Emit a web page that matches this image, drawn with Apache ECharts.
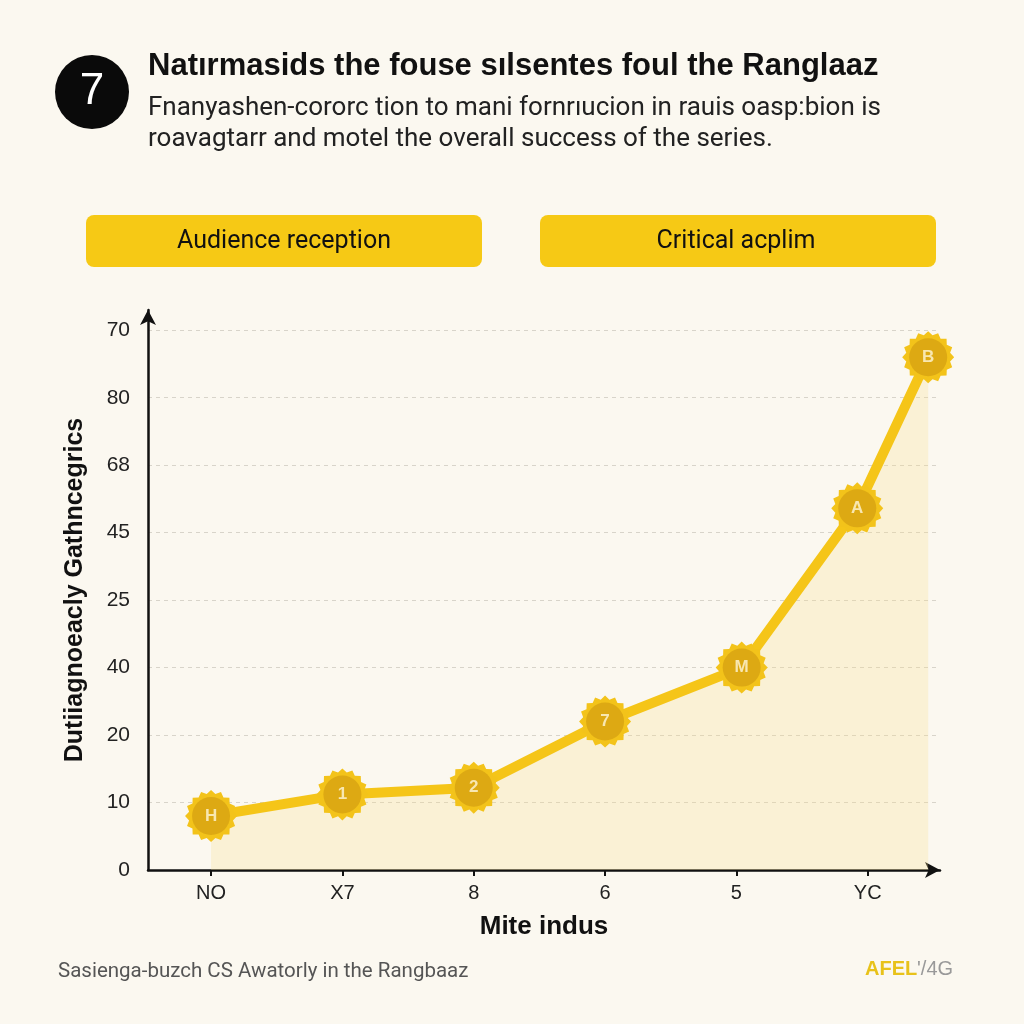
<!DOCTYPE html>
<html><head><meta charset="utf-8">
<script src="https://cdn.jsdelivr.net/npm/echarts@6/dist/echarts.min.js"></script>
<style>html,body{margin:0;padding:0;background:#FBF8F0}#c{width:1024px;height:1024px}</style>
</head><body><div id="c"></div>
<script>
const categories = ['NO', 'X7', '8', '6', '5', 'YC'];
const yTickLabels = ['0', '10', '20', '40', '25', '45', '68', '80', '70'];
const pointX = [0, 1, 2, 3, 4.04, 4.92, 5.46];
const pointY = [0.80, 1.12, 1.22, 2.2, 3.0, 5.36, 7.60];
const pointLabels = ['H', '1', '2', '7', 'M', 'A', 'B'];
const legendNames = ['Audience reception', 'Critical acplim'];

const data = pointX.map((x, i) => [x, pointY[i]]);

// gear / sun badge outline
let gp = [];
const teeth = 16;
for (let i = 0; i < teeth * 2; i++) {
  const a = Math.PI * i / teeth;
  const r = (i % 2 === 0) ? 50 : 43;
  gp.push((50 + r * Math.cos(a)).toFixed(2) + ' ' + (50 + r * Math.sin(a)).toFixed(2));
}
const gearPath = 'path://M' + gp.join(' L') + ' Z';

const chart = echarts.init(document.getElementById('c'));
const FONT = 'Liberation Sans';
chart.setOption({
  backgroundColor: '#FBF8F0',
  textStyle: { fontFamily: FONT },
  grid: { left: 148, right: 84, top: 310, bottom: 154 },
  xAxis: {
    type: 'value', min: -0.48, max: 5.55,
    name: 'Mite indus', nameLocation: 'middle', nameGap: 44,
    nameTextStyle: { fontSize: 26, fontWeight: 'bold', color: '#111', fontFamily: FONT },
    axisLine: { onZero: false, lineStyle: { color: '#111', width: 2.5 }, symbol: ['none', 'arrow'], symbolSize: [12, 15] },
    axisTick: { show: true, customValues: [0, 1, 2, 3, 4, 5], length: 6, lineStyle: { color: '#111', width: 2 } },
    axisLabel: { customValues: [0, 1, 2, 3, 4, 5], formatter: v => categories[Math.round(v)], fontSize: 20, color: '#222', margin: 13 },
    splitLine: { show: false }
  },
  yAxis: {
    type: 'value', min: 0, max: 8.3, interval: 1,
    name: 'Dutiiagnoeacly Gathncegrics', nameLocation: 'middle', nameGap: 60,
    nameTextStyle: { fontSize: 25, fontWeight: 'bold', color: '#111', fontFamily: FONT },
    axisLine: { show: true, onZero: false, lineStyle: { color: '#111', width: 2.5 }, symbol: ['none', 'arrow'], symbolSize: [12, 15] },
    axisTick: { show: false },
    axisLabel: { customValues: [0, 1, 2, 3, 4, 5, 6, 7, 8], formatter: v => yTickLabels[Math.round(v)], fontSize: 21, color: '#222', margin: 18 },
    splitLine: { show: true, showMinLine: false, showMaxLine: false, lineStyle: { color: '#D8D4CA', type: [4, 4], width: 1 } }
  },
  series: [
    {
      type: 'line', data: data,
      lineStyle: { color: '#F5C518', width: 10 },
      areaStyle: { color: 'rgba(246, 222, 140, 0.38)', origin: 'start' },
      symbol: gearPath, symbolSize: 52, showSymbol: true,
      itemStyle: { color: '#F3C31A', borderWidth: 0 },
      z: 2
    },
    {
      type: 'scatter', data: data,
      symbol: 'circle', symbolSize: 38,
      itemStyle: { color: '#D7A312' },
      label: { show: true, position: 'inside', formatter: p => pointLabels[p.dataIndex], color: '#FFF6DA', fontSize: 17, fontWeight: 'bold', fontFamily: FONT },
      z: 3
    }
  ],
  graphic: [
    { type: 'circle', shape: { cx: 92, cy: 92, r: 37 }, style: { fill: '#0A0A0A' } },
    { type: 'text', x: 92, y: 92, style: { text: '7', font: '44px ' + FONT, fill: '#fff', textAlign: 'center', textVerticalAlign: 'middle' } },
    { type: 'text', x: 148, y: 66, style: { text: 'Natırmasids the fouse sılsentes foul the Ranglaaz', font: 'bold 31px ' + FONT, fill: '#111', textVerticalAlign: 'middle' } },
    { type: 'text', x: 148, y: 108, style: { text: 'Fnanyashen-cororc tion to mani fornrıucion in rauis oasp:bion is', font: '26px Roboto', fill: '#222', textVerticalAlign: 'middle' } },
    { type: 'text', x: 148, y: 139, style: { text: 'roavagtarr and motel the overall success of the series.', font: '26px Roboto', fill: '#222', textVerticalAlign: 'middle' } },
    { type: 'rect', shape: { x: 86, y: 215, width: 396, height: 52, r: 8 }, style: { fill: '#F6C915' } },
    { type: 'text', x: 284, y: 242, style: { text: legendNames[0], font: '25px Roboto', fill: '#111', textAlign: 'center', textVerticalAlign: 'middle' } },
    { type: 'rect', shape: { x: 540, y: 215, width: 396, height: 52, r: 8 }, style: { fill: '#F6C915' } },
    { type: 'text', x: 736, y: 242, style: { text: legendNames[1], font: '25px Roboto', fill: '#111', textAlign: 'center', textVerticalAlign: 'middle' } },
    { type: 'text', x: 58, y: 972, style: { text: 'Sasienga-buzch CS Awatorly in the Rangbaaz', font: '20.5px Roboto', fill: '#555', textVerticalAlign: 'middle' } },
    { type: 'text', x: 865, y: 969, style: { text: 'AFEL', font: 'bold 20px ' + FONT, fill: '#E8C21A', textVerticalAlign: 'middle' } },
    { type: 'text', x: 917, y: 969, style: { text: "'/4G", font: '20px ' + FONT, fill: '#999', textVerticalAlign: 'middle' } }
  ]
});
</script></body></html>
